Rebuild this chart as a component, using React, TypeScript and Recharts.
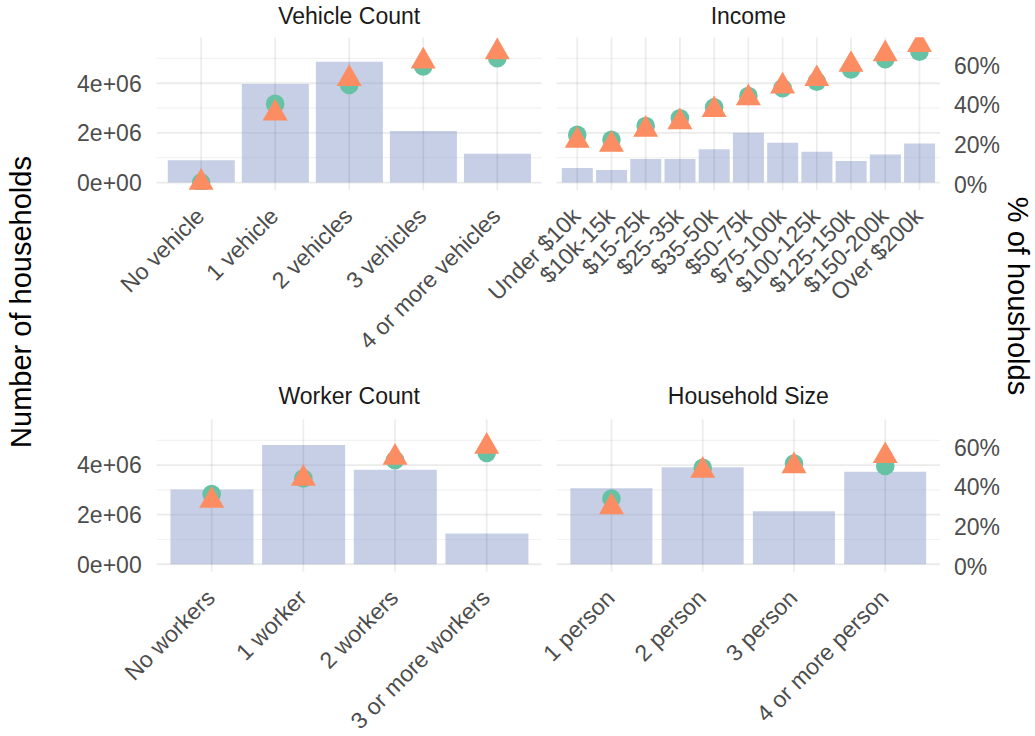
import React from 'react';
import { ComposedChart, Bar, Scatter, XAxis, YAxis, CartesianGrid, ReferenceLine } from 'recharts';

// Vehicle Count
const vehicleCats = ['No vehicle', '1 vehicle', '2 vehicles', '3 vehicles', '4 or more vehicles'];
const vehicleHouseholds = [900000, 3970000, 4870000, 2080000, 1160000];
const vehicleShareCircle = [0, 39.6, 49.1, 58.4, 62.6];
const vehicleShareTriangle = [0, 34.9, 52.3, 61.1, 65.7];

// Income
const incomeCats = [
  'Under $10k', '$10k-15k', '$15-25k', '$25-35k', '$35-50k', '$50-75k',
  '$75-100k', '$100-125k', '$125-150k', '$150-200k', 'Over $200k',
];
const incomeHouseholds = [590000, 510000, 950000, 950000, 1340000, 2010000, 1600000, 1240000, 870000, 1130000, 1570000];
const incomeShareCircle = [24.0, 21.5, 28.5, 32.4, 37.9, 43.6, 47.5, 50.8, 57.0, 62.1, 65.9];
const incomeShareTriangle = [21.1, 19.1, 26.7, 30.5, 36.6, 42.6, 48.5, 52.2, 59.4, 64.7, 69.4];

// Worker Count
const workerCats = ['No workers', '1 worker', '2 workers', '3 or more workers'];
const workerHouseholds = [3020000, 4810000, 3810000, 1240000];
const workerShareCircle = [35.4, 43.3, 52.5, 56.2];
const workerShareTriangle = [32.1, 43.2, 53.9, 59.4];

// Household Size
const sizeCats = ['1 person', '2 person', '3 person', '4 or more person'];
const sizeHouseholds = [3070000, 3920000, 2140000, 3730000];
const sizeShareCircle = [33.1, 48.6, 50.8, 49.6];
const sizeShareTriangle = [28.9, 47.3, 49.6, 54.7];

const countTicks = [0, 2000000, 4000000];
const countMinor = [1000000, 3000000, 5000000];
const pctTicks = [0, 20, 40, 60];

const W = 1035;
const H = 736;
const FONT = '"Liberation Sans", Arial, Helvetica, sans-serif';
const TICK = '#4d4d4d';
const COUNT_DOMAIN: [number, number] = [-300000, 5850000];
const PCT_DOMAIN: [number, number] = [COUNT_DOMAIN[0] / 80000, COUNT_DOMAIN[1] / 80000];

const sci = (v: number) => {
  if (v === 0) return '0e+00';
  const e = Math.floor(Math.log10(Math.abs(v)));
  const m = v / Math.pow(10, e);
  return `${m}e+${String(e).padStart(2, '0')}`;
};

type Rect = { x: number; y: number; w: number; h: number };

const CircleMark = (p: any) => <circle cx={p.cx} cy={p.cy} r={9.3} fill="#66c2a5" />;

// triangles are clipped to the panel like ggplot does
const makeTriangle = (name: string, plot: Rect) => (p: any) => {
  const s = 12.5;
  const h = s * Math.sqrt(3);
  const pts = `${p.cx},${p.cy - (2 * h) / 3} ${p.cx + s},${p.cy + h / 3} ${p.cx - s},${p.cy + h / 3}`;
  const id = `clip-${name}-${p.index}`;
  return (
    <g>
      <clipPath id={id}>
        <rect x={plot.x} y={plot.y} width={plot.w} height={plot.h} />
      </clipPath>
      <polygon points={pts} fill="#fc8d62" clipPath={`url(#${id})`} />
    </g>
  );
};

interface PanelProps {
  name: string;
  cats: string[];
  counts: number[];
  circle: number[];
  triangle: number[];
  plot: Rect;
  side: 'left' | 'right';
}

const Panel = ({ name, cats, counts, circle, triangle, plot, side }: PanelProps) => {
  const data = cats.map((c, i) => ({ cat: c, households: counts[i], circle: circle[i], triangle: triangle[i] }));
  const yw = 60;
  const leftW = side === 'left' ? yw : 0;
  const rightW = side === 'right' ? yw : 0;
  const xh = 40;
  const pad = (0.1 * plot.w) / (cats.length + 0.2);
  const bottom = plot.y + plot.h;

  return (
    <div style={{ position: 'absolute', left: 0, top: 0 }}>
      <ComposedChart
        width={W}
        height={H}
        data={data}
        barCategoryGap="5%"
        margin={{
          top: plot.y,
          left: plot.x - leftW,
          right: W - plot.x - plot.w - rightW,
          bottom: H - bottom - xh,
        }}
      >
        <CartesianGrid horizontalValues={countMinor} vertical={false} stroke="#f2f2f2" strokeWidth={1.2} />
        <CartesianGrid horizontalValues={countTicks} vertical={false} stroke="#ebebeb" strokeWidth={1.8} />
        <XAxis
          dataKey="cat"
          type="category"
          interval={0}
          tickLine={false}
          axisLine={false}
          height={xh}
          padding={{ left: pad, right: pad }}
          tick={(t: any) => (
            <text
              transform={`translate(${t.x - 7},${bottom + 16}) rotate(-45)`}
              textAnchor="end"
              dy="0.72em"
              fill={TICK}
              fontSize={23}
            >
              {t.payload.value}
            </text>
          )}
        />
        <YAxis
          type="number"
          domain={COUNT_DOMAIN}
          allowDataOverflow
          ticks={countTicks}
          hide={side !== 'left'}
          width={yw}
          tickLine={false}
          axisLine={false}
          tick={(t: any) => (
            <text x={plot.x - 15} y={t.y} dy="0.36em" textAnchor="end" fill={TICK} fontSize={23}>
              {sci(t.payload.value)}
            </text>
          )}
        />
        <YAxis
          yAxisId="pct"
          orientation="right"
          type="number"
          domain={PCT_DOMAIN}
          allowDataOverflow
          ticks={pctTicks}
          hide={side !== 'right'}
          width={yw}
          tickLine={false}
          axisLine={false}
          tick={(t: any) => (
            <text x={plot.x + plot.w + 14} y={t.y + 2} dy="0.36em" textAnchor="start" fill={TICK} fontSize={23}>
              {`${t.payload.value}%`}
            </text>
          )}
        />
        {cats.map((c) => (
          <ReferenceLine key={c} x={c} stroke="#000" strokeOpacity={0.07} strokeWidth={1.8} />
        ))}
        <Bar dataKey="households" fill="#8da0cb" fillOpacity={0.5} isAnimationActive={false} />
        <Scatter yAxisId="pct" dataKey="circle" shape={CircleMark} isAnimationActive={false} />
        <Scatter yAxisId="pct" dataKey="triangle" shape={makeTriangle(name, plot)} isAnimationActive={false} />
      </ComposedChart>
    </div>
  );
};

const TL: Rect = { x: 156.7, y: 37.3, w: 385, h: 152.7 };
const TR: Rect = { x: 556.7, y: 37.3, w: 383.3, h: 152.7 };
const BL: Rect = { x: 156.7, y: 419.3, w: 385, h: 152.4 };
const BR: Rect = { x: 556.7, y: 419.3, w: 383.3, h: 152.4 };

export default function App() {
  return (
    <div style={{ position: 'absolute', left: 0, top: 0, width: W, height: H, background: '#fff', fontFamily: FONT }}>
      <Panel name="veh" cats={vehicleCats} counts={vehicleHouseholds} circle={vehicleShareCircle} triangle={vehicleShareTriangle} plot={TL} side="left" />
      <Panel name="inc" cats={incomeCats} counts={incomeHouseholds} circle={incomeShareCircle} triangle={incomeShareTriangle} plot={TR} side="right" />
      <Panel name="wrk" cats={workerCats} counts={workerHouseholds} circle={workerShareCircle} triangle={workerShareTriangle} plot={BL} side="left" />
      <Panel name="size" cats={sizeCats} counts={sizeHouseholds} circle={sizeShareCircle} triangle={sizeShareTriangle} plot={BR} side="right" />
      <svg width={W} height={H} style={{ position: 'absolute', left: 0, top: 0, pointerEvents: 'none' }}>
        <g fontSize={23} fill="#1a1a1a" textAnchor="middle">
          <text x={TL.x + TL.w / 2} y={24}>Vehicle Count</text>
          <text x={TR.x + TR.w / 2} y={24}>Income</text>
          <text x={BL.x + BL.w / 2} y={404}>Worker Count</text>
          <text x={BR.x + BR.w / 2} y={404}>Household Size</text>
        </g>
        <text transform="translate(31,302) rotate(-90)" textAnchor="middle" fontSize={29} fill="#000">
          Number of households
        </text>
        <text transform="translate(1008,296) rotate(90)" textAnchor="middle" fontSize={29} fill="#000">
          % of housholds
        </text>
      </svg>
    </div>
  );
}
